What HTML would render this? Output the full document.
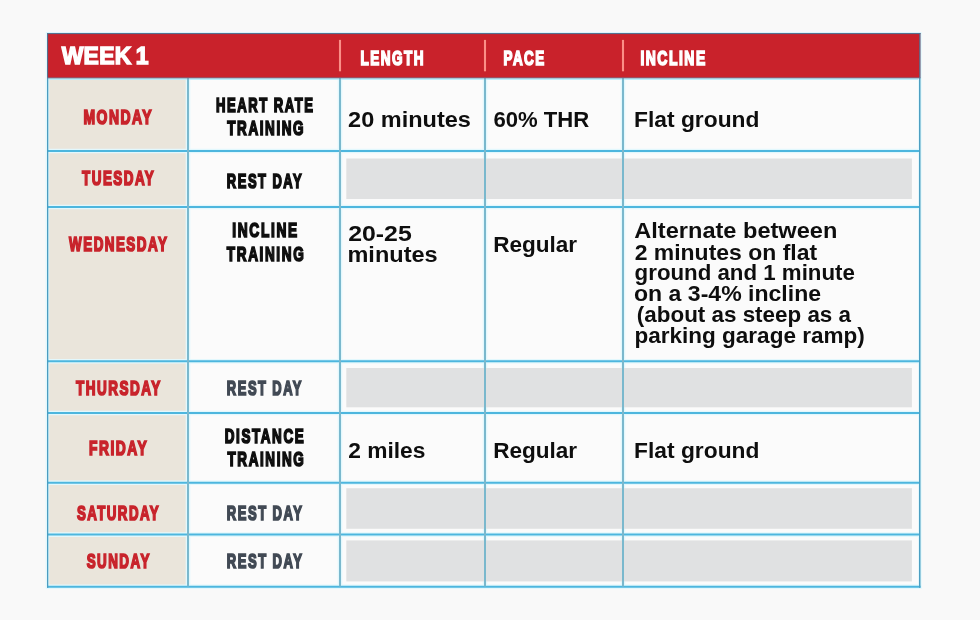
<!DOCTYPE html>
<html lang="en">
<head>
<meta charset="utf-8">
<title>Week 1 Walking Plan</title>
<style>
html,body{margin:0;padding:0;background:#f9f9f9;}
body{width:980px;height:620px;overflow:hidden;}
svg{display:block;}
text{font-family:"Liberation Sans",sans-serif;font-weight:700;white-space:pre;}
.wk{font-size:23.7px;fill:#ffffff;stroke:#ffffff;stroke-width:1.4px;paint-order:stroke fill;stroke-linejoin:miter;letter-spacing:0.3px;word-spacing:-2.6px;}
.hd{font-size:20.2px;fill:#ffffff;stroke:#ffffff;stroke-width:1.7px;paint-order:stroke fill;stroke-linejoin:miter;letter-spacing:2.2px;}
.day{font-size:20.2px;fill:#c8232b;stroke:#c8232b;stroke-width:1.7px;paint-order:stroke fill;stroke-linejoin:miter;letter-spacing:2.2px;}
.tr{font-size:20.2px;fill:#0e0e0e;stroke:#0e0e0e;stroke-width:1.7px;paint-order:stroke fill;stroke-linejoin:miter;letter-spacing:2.4px;word-spacing:-0.5px;}
.rs{font-size:20.2px;fill:#414954;stroke:#414954;stroke-width:1.7px;paint-order:stroke fill;stroke-linejoin:miter;letter-spacing:2.4px;word-spacing:-0.5px;}
.bd{font-size:22.3px;fill:#0e0e0e;}
</style>
</head>
<body>
<svg width="980" height="620" viewBox="0 0 980 620">
<rect x="0" y="0" width="980" height="620" fill="#f9f9f9"/>
<rect x="47.5" y="33" width="872.2" height="553.5" fill="#fbfbfb"/>
<rect x="47.5" y="78" width="140.5" height="508.5" fill="#eae5db"/>
<rect x="47" y="33" width="873.5" height="45" fill="#c9222b"/>
<rect x="48.2" y="78.4" width="870.9" height="1.5" fill="#b4eefc"/>
<g stroke="#e2f8fd" stroke-width="4.6" fill="none">
<line x1="47.5" y1="151" x2="919.7" y2="151"/>
<line x1="47.5" y1="207" x2="919.7" y2="207"/>
<line x1="47.5" y1="361.3" x2="919.7" y2="361.3"/>
<line x1="47.5" y1="413" x2="919.7" y2="413"/>
<line x1="47.5" y1="482.7" x2="919.7" y2="482.7"/>
<line x1="47.5" y1="534.6" x2="919.7" y2="534.6"/>
<line x1="46.0" y1="586.8" x2="921.5" y2="586.8"/>
<line x1="188" y1="80" x2="188" y2="586.5"/>
<line x1="340" y1="80" x2="340" y2="586.5"/>
<line x1="485" y1="80" x2="485" y2="586.5"/>
<line x1="623" y1="80" x2="623" y2="586.5"/>
<line x1="47.4" y1="78" x2="47.4" y2="588.5" stroke-width="3.6"/>
<line x1="919.9" y1="78" x2="919.9" y2="588.5" stroke-width="3.6"/>
<line x1="46.4" y1="32.2" x2="46.4" y2="78" stroke-width="1.4"/>
<line x1="921.1" y1="32.2" x2="921.1" y2="78" stroke-width="1.4"/>
</g>
<rect x="346.3" y="158.5" width="565.6" height="40.5" fill="#e0e1e2"/>
<rect x="346.3" y="368" width="565.6" height="39.3" fill="#e0e1e2"/>
<rect x="346.3" y="488.2" width="565.6" height="40.6" fill="#e0e1e2"/>
<rect x="346.3" y="540.4" width="565.6" height="41.0" fill="#e0e1e2"/>
<g stroke="#4db6de" stroke-width="2" fill="none">
<line x1="47.5" y1="151" x2="919.7" y2="151"/>
<line x1="47.5" y1="207" x2="919.7" y2="207"/>
<line x1="47.5" y1="361.3" x2="919.7" y2="361.3"/>
<line x1="47.5" y1="413" x2="919.7" y2="413"/>
<line x1="47.5" y1="482.7" x2="919.7" y2="482.7"/>
<line x1="47.5" y1="534.6" x2="919.7" y2="534.6"/>
<line x1="47.0" y1="586.8" x2="920.5" y2="586.8"/>
</g>
<g stroke="#7ab8cd" stroke-width="2" fill="none">
<line x1="188" y1="78" x2="188" y2="586.5"/>
<line x1="340" y1="78" x2="340" y2="586.5"/>
<line x1="485" y1="78" x2="485" y2="586.5"/>
<line x1="623" y1="78" x2="623" y2="586.5"/>
</g>
<rect x="47" y="78" width="1.3" height="509.8" fill="#4b9cc0"/>
<rect x="919" y="78" width="1.5" height="509.8" fill="#4d9fc2"/>
<rect x="46.2" y="32.2" width="874.8" height="0.9" fill="#d6f4fd"/>
<rect x="47" y="33" width="873.5" height="1.1" fill="#55718f"/>
<rect x="47" y="33" width="1.1" height="45" fill="#55718f"/>
<rect x="919.2" y="33" width="1.3" height="45" fill="#55718f"/>
<rect x="47" y="77.5" width="873.5" height="0.9" fill="#6a7f9c"/>
<g fill="#fb8f87">
<rect x="338.95" y="39.9" width="2.1" height="31.4"/>
<rect x="483.95" y="39.9" width="2.1" height="31.4"/>
<rect x="621.95" y="39.9" width="2.1" height="31.4"/>
</g>
<text class="wk" x="61.66" y="63.90" textLength="87.16" lengthAdjust="spacingAndGlyphs">WEEK 1</text>
<text class="hd" x="360.57" y="64.75" textLength="64.46" lengthAdjust="spacingAndGlyphs">LENGTH</text>
<text class="hd" x="503.46" y="64.75" textLength="42.16" lengthAdjust="spacingAndGlyphs">PACE</text>
<text class="hd" x="640.42" y="64.75" textLength="66.30" lengthAdjust="spacingAndGlyphs">INCLINE</text>
<text class="day" x="83.42" y="123.75" textLength="69.75" lengthAdjust="spacingAndGlyphs">MONDAY</text>
<text class="day" x="82.08" y="184.65" textLength="73.18" lengthAdjust="spacingAndGlyphs">TUESDAY</text>
<text class="day" x="69.08" y="251.35" textLength="99.23" lengthAdjust="spacingAndGlyphs">WEDNESDAY</text>
<text class="day" x="76.09" y="395.15" textLength="85.53" lengthAdjust="spacingAndGlyphs">THURSDAY</text>
<text class="day" x="89.05" y="454.65" textLength="59.12" lengthAdjust="spacingAndGlyphs">FRIDAY</text>
<text class="day" x="76.92" y="520.05" textLength="83.12" lengthAdjust="spacingAndGlyphs">SATURDAY</text>
<text class="day" x="86.65" y="568.45" textLength="64.16" lengthAdjust="spacingAndGlyphs">SUNDAY</text>
<text class="tr" x="215.98" y="111.85" textLength="98.63" lengthAdjust="spacingAndGlyphs">HEART RATE</text>
<text class="tr" x="227.26" y="135.35" textLength="77.91" lengthAdjust="spacingAndGlyphs">TRAINING</text>
<text class="tr" x="226.87" y="187.55" textLength="76.29" lengthAdjust="spacingAndGlyphs">REST DAY</text>
<text class="tr" x="232.34" y="236.75" textLength="66.41" lengthAdjust="spacingAndGlyphs">INCLINE</text>
<text class="tr" x="226.87" y="260.85" textLength="78.44" lengthAdjust="spacingAndGlyphs">TRAINING</text>
<text class="rs" x="226.87" y="395.05" textLength="76.10" lengthAdjust="spacingAndGlyphs">REST DAY</text>
<text class="tr" x="224.77" y="443.25" textLength="80.48" lengthAdjust="spacingAndGlyphs">DISTANCE</text>
<text class="tr" x="227.54" y="466.35" textLength="77.90" lengthAdjust="spacingAndGlyphs">TRAINING</text>
<text class="rs" x="226.75" y="520.35" textLength="76.67" lengthAdjust="spacingAndGlyphs">REST DAY</text>
<text class="rs" x="226.75" y="568.35" textLength="76.67" lengthAdjust="spacingAndGlyphs">REST DAY</text>
<text class="bd" x="348.10" y="127.20" textLength="122.75" lengthAdjust="spacingAndGlyphs">20 minutes</text>
<text class="bd" x="493.45" y="127.00" textLength="95.87" lengthAdjust="spacingAndGlyphs">60% THR</text>
<text class="bd" x="634.10" y="127.00" textLength="125.35" lengthAdjust="spacingAndGlyphs">Flat ground</text>
<text class="bd" x="348.19" y="241.00" textLength="63.57" lengthAdjust="spacingAndGlyphs">20-25</text>
<text class="bd" x="347.45" y="261.90" textLength="90.21" lengthAdjust="spacingAndGlyphs">minutes</text>
<text class="bd" x="493.16" y="251.60" textLength="83.98" lengthAdjust="spacingAndGlyphs">Regular</text>
<text class="bd" x="634.31" y="238.40" textLength="203.01" lengthAdjust="spacingAndGlyphs">Alternate between</text>
<text class="bd" x="634.65" y="259.60" textLength="182.43" lengthAdjust="spacingAndGlyphs">2 minutes on flat</text>
<text class="bd" x="634.61" y="280.30" textLength="220.23" lengthAdjust="spacingAndGlyphs">ground and 1 minute</text>
<text class="bd" x="634.02" y="301.00" textLength="187.08" lengthAdjust="spacingAndGlyphs">on a 3-4% incline</text>
<text class="bd" x="636.88" y="322.00" textLength="214.10" lengthAdjust="spacingAndGlyphs">(about as steep as a</text>
<text class="bd" x="634.43" y="342.70" textLength="230.40" lengthAdjust="spacingAndGlyphs">parking garage ramp)</text>
<text class="bd" x="348.21" y="458.40" textLength="77.18" lengthAdjust="spacingAndGlyphs">2 miles</text>
<text class="bd" x="493.16" y="458.40" textLength="83.98" lengthAdjust="spacingAndGlyphs">Regular</text>
<text class="bd" x="634.10" y="458.40" textLength="125.35" lengthAdjust="spacingAndGlyphs">Flat ground</text>
</svg>
</body>
</html>
